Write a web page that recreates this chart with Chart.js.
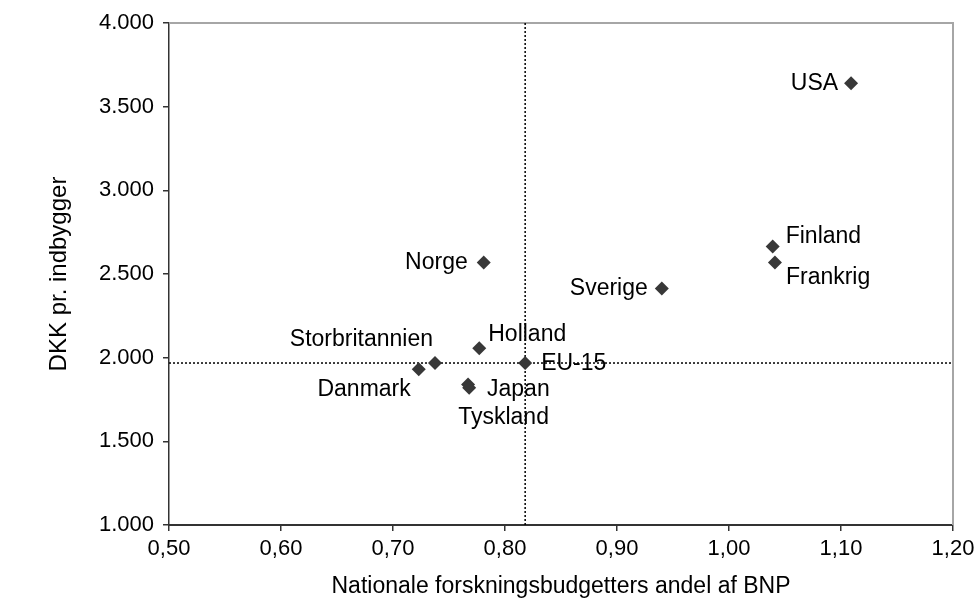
<!DOCTYPE html>
<html><head><meta charset="utf-8">
<script src="https://cdn.jsdelivr.net/npm/chart.js@4/dist/chart.umd.min.js"></script>
<style>html,body{margin:0;padding:0;background:#fff}#wrap{width:976px;height:602px}</style>
</head><body><div id="wrap"><canvas id="c" width="976" height="602"></canvas></div>
<script>
// ---- data ----
const countries = ['USA','Finland','Frankrig','Sverige','Norge','Holland','EU-15','Storbritannien','Danmark','Japan','Tyskland'];
const budgetShare = [1.109, 1.039, 1.041, 0.940, 0.781, 0.777, 0.818, 0.7375, 0.723, 0.767, 0.768];
const dkkPerCapita = [3640, 2665, 2569, 2414, 2569, 2056, 1968, 1968, 1931, 1840, 1820];
const refShare = 0.818;
const refDkk = 1968;
const xTickValues = [0.5, 0.6, 0.7, 0.8, 0.9, 1.0, 1.1, 1.2];
const yTickValues = [1000, 1500, 2000, 2500, 3000, 3500, 4000];
const xTitle = 'Nationale forskningsbudgetters andel af BNP';
const yTitle = 'DKK pr. indbygger';

// ---- label placement (style only) ----
const labelPlacement = {
  'USA': ['right', -13, 0],
  'Finland': ['left', 13, -10],
  'Frankrig': ['left', 11, 15],
  'Sverige': ['right', -14, 0],
  'Norge': ['right', -16, 0],
  'Holland': ['left', 9, -14],
  'EU-15': ['left', 16, 1],
  'Storbritannien': ['right', -2, -23],
  'Danmark': ['right', -8, 20],
  'Japan': ['left', 19, 5],
  'Tyskland': ['left', -11, 30]
};

const FONT = 'Liberation Sans, Arial, sans-serif';
const fmtX = v => v.toFixed(2).replace('.', ',');
const fmtY = v => {
  const s = Math.round(v).toString();
  return s.replace(/\B(?=(\d{3})+(?!\d))/g, '.');
};

const points = countries.map((c, i) => ({x: budgetShare[i], y: dkkPerCapita[i]}));

const frameAndLabels = {
  id: 'frameAndLabels',
  beforeDatasetsDraw(chart) {
    const {ctx, chartArea: a} = chart;
    ctx.save();
    ctx.strokeStyle = '#a6a6a6';
    ctx.lineWidth = 2;
    ctx.beginPath();
    ctx.moveTo(a.left, a.top);
    ctx.lineTo(a.right, a.top);
    ctx.lineTo(a.right, a.bottom);
    ctx.stroke();
    ctx.restore();
  },
  afterDatasetsDraw(chart) {
    const {ctx} = chart;
    const meta = chart.getDatasetMeta(0);
    ctx.save();
    ctx.font = '23px ' + FONT;
    ctx.fillStyle = '#000';
    ctx.textBaseline = 'middle';
    countries.forEach((c, i) => {
      const el = meta.data[i];
      const p = labelPlacement[c];
      ctx.textAlign = p[0];
      ctx.fillText(c, el.x + p[1], el.y + p[2]);
    });
    ctx.restore();
  }
};

new Chart(document.getElementById('c'), {
  data: {
    datasets: [
      {
        type: 'scatter',
        data: points,
        order: 0,
        pointStyle: 'rectRot',
        pointRadius: 7,
        pointHoverRadius: 7,
        backgroundColor: '#383838',
        borderColor: '#383838',
        borderWidth: 0
      },
      {
        type: 'line',
        data: [{x: refShare, y: yTickValues[0]}, {x: refShare, y: yTickValues[yTickValues.length - 1]}],
        order: 1,
        borderColor: '#000',
        borderWidth: 1.5,
        borderDash: [2, 2],
        pointRadius: 0,
        fill: false
      },
      {
        type: 'line',
        data: [{x: xTickValues[0], y: refDkk}, {x: xTickValues[xTickValues.length - 1], y: refDkk}],
        order: 1,
        borderColor: '#000',
        borderWidth: 1.5,
        borderDash: [2, 2],
        pointRadius: 0,
        fill: false
      }
    ]
  },
  options: {
    responsive: false,
    animation: false,
    devicePixelRatio: 1,
    layout: {padding: {left: 0, top: 23, right: 23, bottom: 0}},
    plugins: {legend: {display: false}, tooltip: {enabled: false}},
    scales: {
      x: {
        type: 'linear',
        min: xTickValues[0],
        max: xTickValues[xTickValues.length - 1],
        afterBuildTicks: s => { s.ticks = xTickValues.map(v => ({value: v})); },
        afterFit: s => { s.height = 77; s.paddingLeft = 0; s.paddingRight = 0; },
        ticks: {callback: v => fmtX(v), color: '#000', font: {family: FONT, size: 22}, padding: 5, maxRotation: 0, autoSkip: false},
        grid: {drawOnChartArea: false, tickLength: 6, color: '#333', lineWidth: 1.5},
        border: {display: true, color: '#333', width: 2},
        title: {display: true, text: xTitle, color: '#000', font: {family: FONT, size: 23}, padding: {top: 0, bottom: 2}}
      },
      y: {
        type: 'linear',
        min: yTickValues[0],
        max: yTickValues[yTickValues.length - 1],
        afterBuildTicks: s => { s.ticks = yTickValues.map(v => ({value: v})); },
        afterFit: s => { s.width = 169; s.paddingTop = 0; s.paddingBottom = 0; },
        ticks: {callback: v => fmtY(v), color: '#000', font: {family: FONT, size: 22}, padding: 9, autoSkip: false},
        grid: {drawOnChartArea: false, tickLength: 6, color: '#333', lineWidth: 1.5},
        border: {display: true, color: '#333', width: 1.5},
        title: {display: true, text: yTitle, color: '#000', font: {family: FONT, size: 24}, padding: {top: 45, bottom: 0}}
      }
    }
  },
  plugins: [frameAndLabels]
});
</script>
</body></html>
